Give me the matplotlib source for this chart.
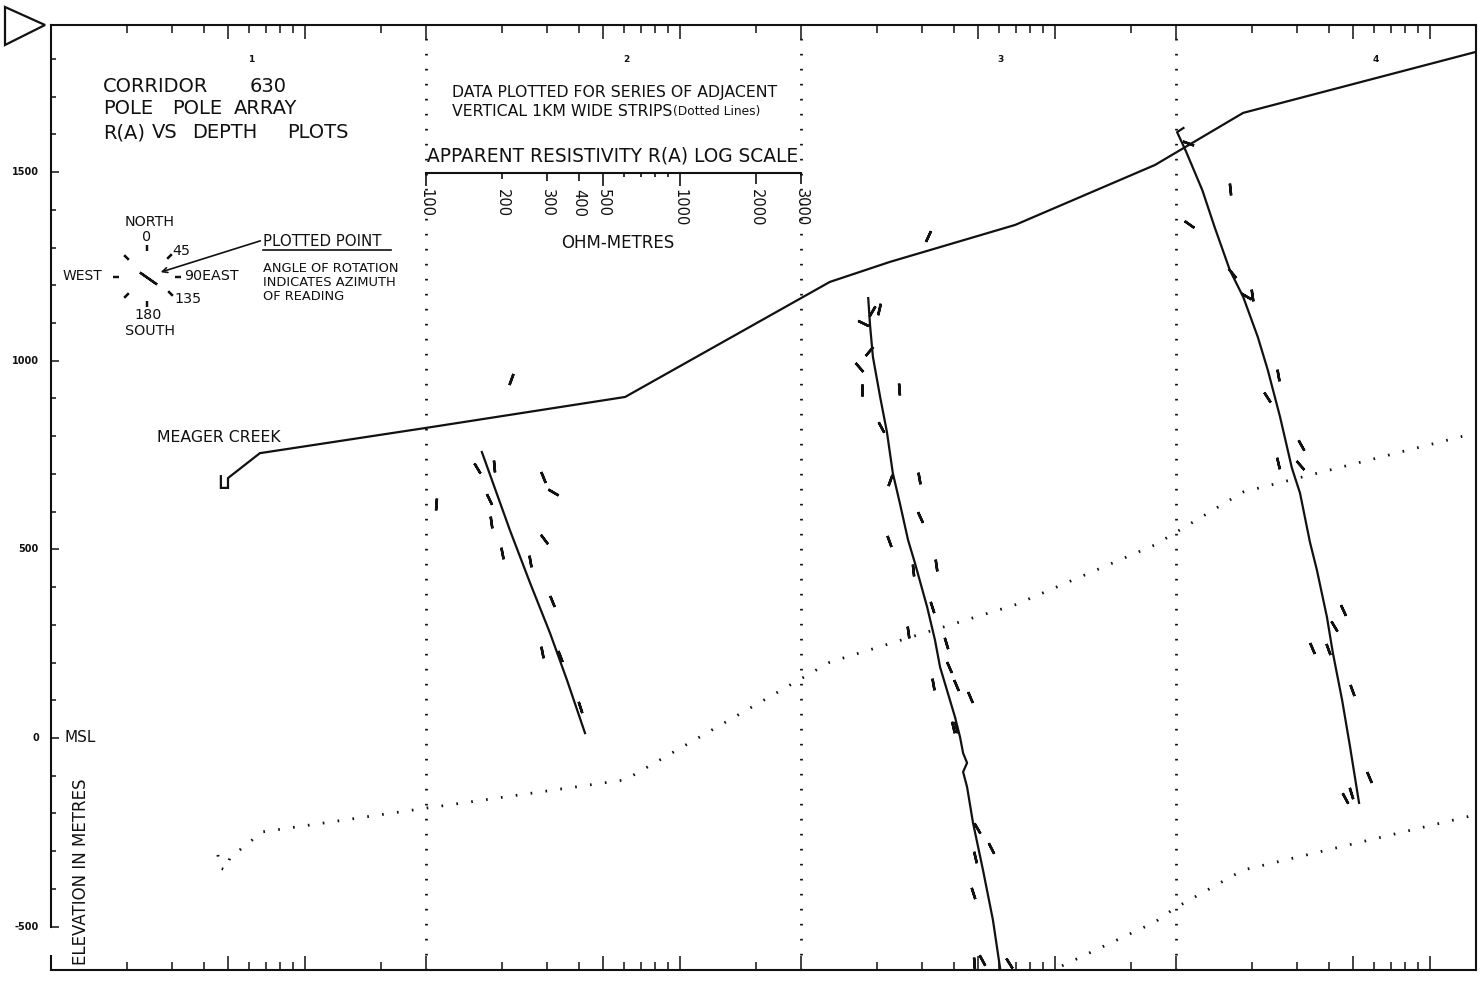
import numpy as np
import matplotlib
matplotlib.use("Agg")
import matplotlib.pyplot as plt
from matplotlib.lines import Line2D
from matplotlib.patches import Polygon, FancyArrowPatch
from matplotlib.ticker import FixedLocator, NullFormatter, FixedFormatter
import matplotlib.transforms as mtransforms

plt.rcParams['font.family'] = ['DejaVu Sans']

# ---------------------------------------------------------------------------
# Strip layout: the corridor is cut into 1 km wide vertical strips; in each
# strip apparent resistivity is plotted on a log scale, 100 ohm-m at the
# strip's left edge to 3000 ohm-m at its right edge.
# ---------------------------------------------------------------------------
R_MIN, R_MAX = 100.0, 3000.0
STRIP_EDGES_KM = [1.0, 2.0, 3.0]
STRIP_LABELS = ["1", "2", "3", "4"]

# Ground surface along the corridor (distance in km, elevation in m)
topo_km = [0.453, 0.453, 0.472, 0.472, 0.557, 1.000, 1.531, 2.077, 2.237, 2.571, 2.944, 3.179, 3.797]
topo_elev = [694, 663, 663, 689, 755, 822, 904, 1209, 1262, 1360, 1519, 1657, 1818]

# Depth contours below surface (dotted)
depth1_km = [0.445, 0.451, 0.467, 0.477, 0.563, 1.000, 1.531, 2.077, 2.571, 2.944, 3.179, 3.797]
depth1_elev = [-310, -345, -350, -318, -249, -186, -111, 201, 353, 512, 652, 808]
depth2_km = [2.696, 2.944, 2.997, 3.179, 3.797]
depth2_elev = [-604, -488, -451, -350, -204]

# Smoothed R(A) vs depth profiles (ohm-m, elevation m), one per strip
prof2_r = [166, 214, 257, 308, 359, 423]
prof2_elev = [758, 551, 411, 278, 154, 13]
prof3_r = [184, 187, 192, 205, 218, 230, 245, 264, 281, 314, 337, 353, 404, 423, 435, 451,
           435, 451, 476, 521, 570, 614]
prof3_elev = [1166, 1095, 1010, 904, 811, 702, 623, 525, 464, 347, 260, 188, 56, 3, -40, -66,
              -90, -130, -225, -350, -482, -628]
prof4_r = [107, 101, 109, 127, 142, 163, 184, 210, 230, 257, 286, 308, 337, 359, 393, 415, 451, 485, 526]
prof4_elev = [1617, 1606, 1558, 1452, 1354, 1240, 1169, 1063, 975, 851, 716, 649, 519, 445, 321,
              225, 101, -24, -172]

# Individual readings: resistivity, elevation and azimuth (degrees from north)
read2_r = [216, 159, 185, 289, 316, 109, 177, 180, 291, 199, 257, 314, 286, 337, 404]
read2_elev = [951, 716, 721, 692, 652, 620, 633, 572, 527, 490, 469, 363, 228, 217, 82]
read2_az = [20, 149, 175, 158, 120, 4, 154, 172, 143, 169, 170, 158, 169, 159, 162]

read3_r = [203, 190, 175, 185, 169, 174, 243, 207, 224, 291, 294, 222, 276, 340, 328, 264,
           372, 383, 331, 408, 463, 397, 408, 493, 560, 485, 476, 516, 480, 660, 316]
read3_elev = [1137, 1132, 1100, 1026, 983, 922, 925, 824, 684, 689, 586, 522, 445, 459, 347, 281,
              252, 188, 143, 140, 109, 29, 29, -239, -292, -315, -411, -588, -596, -596, 1330]
read3_az = [13, 30, 116, 40, 139, 0, 176, 152, 20, 170, 155, 160, 174, 172, 162, 172,
            163, 156, 170, 157, 157, 167, 167, 150, 153, 167, 162, 152, 176, 148, 25]

read4_r = [112, 163, 113, 166, 189, 199, 252, 228, 311, 252, 308, 455, 419, 343, 397, 493, 575, 463, 489]
read4_elev = [1577, 1455, 1362, 1232, 1171, 1174, 962, 904, 777, 729, 724, 339, 297, 239, 236,
              127, -103, -159, -146]
read4_az = [110, 174, 125, 140, 120, 172, 170, 147, 151, 167, 139, 155, 149, 157, 160, 160, 157, 152, 163]

# Resistivity scale values
scale_major = [100, 200, 300, 400, 500, 1000, 2000, 3000]
scale_minor = [600, 700, 800, 900]
elev_labels = [1500, 1000, 500, 0, -500]

# ---------------------------------------------------------------------------
W, H = 1480, 982
LOG_SPAN = np.log10(R_MAX / R_MIN)


def strip_x(left_km, r):
    """Distance along the corridor of resistivity r plotted in the strip starting at left_km."""
    return left_km + np.log10(np.asarray(r, dtype=float) / R_MIN) / LOG_SPAN


def px(x, y):
    """Pixel position on the sheet -> figure fraction."""
    return x / W, 1 - y / H


INK = "#111111"
fig = plt.figure(figsize=(W / 100, H / 100), dpi=100)
ax = fig.add_axes([51 / W, 1 - 970 / H, 1425 / W, 945 / H])
ax.set_xlim(0, 3.8)
ax.set_ylim(-615, 1890)

for s in ax.spines.values():
    s.set_linewidth(1.5)
    s.set_color(INK)
ax.spines['left'].set_bounds(-500, 1890)
ax.plot([0, 0], [-575, -615], color=INK, lw=1.5, clip_on=False, solid_capstyle='butt')

# Log ticks repeated along the top and bottom edges, one set per strip
major_pos, minor_pos = [], []
for left in [0.0] + STRIP_EDGES_KM:
    for v in [100, 500, 1000]:
        p = float(strip_x(left, v))
        if p <= 3.8:
            major_pos.append(p)
    for v in [200, 300, 400, 600, 700, 800, 900, 2000]:
        p = float(strip_x(left, v))
        if p <= 3.8:
            minor_pos.append(p)
ax.xaxis.set_major_locator(FixedLocator(major_pos))
ax.xaxis.set_minor_locator(FixedLocator(minor_pos))
ax.tick_params(axis='x', which='major', direction='in', top=True, bottom=True,
               length=10, width=1.1, color=INK, labelbottom=False, labeltop=False)
ax.tick_params(axis='x', which='minor', direction='in', top=True, bottom=True,
               length=5.5, width=1.1, color=INK)

ax.yaxis.set_major_locator(FixedLocator(elev_labels))
ax.yaxis.set_minor_locator(FixedLocator([v for v in range(-500, 1900, 100) if v % 500]))
ax.tick_params(axis='y', which='major', direction='in', length=6, width=1.1, color=INK,
               labelleft=False, right=False)
ax.tick_params(axis='y', which='minor', direction='in', length=3.5, width=1.1, color=INK, right=False)

ylab_tr = mtransforms.blended_transform_factory(ax.transAxes, ax.transData)
for v in elev_labels:
    ax.text(-0.0085, v, str(v), transform=ylab_tr, ha='right', va='center',
            fontsize=7, fontweight='bold', color=INK)

strip_tr = mtransforms.blended_transform_factory(ax.transData, ax.transAxes)
for i, lab in enumerate(STRIP_LABELS):
    ax.text(i + 0.533, 0.963, lab, transform=strip_tr, ha='center', va='center',
            fontsize=6.5, fontweight='bold', color=INK)

# Strip boundaries and depth contours (dotted)
dot = (0, (0.6, 4.8))
for e in STRIP_EDGES_KM:
    ax.axvline(e, color=INK, lw=2.0, ls=dot)
ax.plot(depth1_km, depth1_elev, color=INK, lw=2.0, ls=dot)
ax.plot(depth2_km, depth2_elev, color=INK, lw=2.0, ls=dot)

# Ground surface
ax.plot(topo_km, topo_elev, color=INK, lw=1.6, solid_joinstyle='miter')

# Resistivity profiles and readings
profiles = [(prof2_r, prof2_elev), (prof3_r, prof3_elev), (prof4_r, prof4_elev)]
readings = [(read2_r, read2_elev, read2_az), (read3_r, read3_elev, read3_az),
            (read4_r, read4_elev, read4_az)]
for left, (pr, pe) in zip(STRIP_EDGES_KM, profiles):
    ax.plot(strip_x(left, pr), pe, color=INK, lw=1.6)
for left, (rr, re, ra) in zip(STRIP_EDGES_KM, readings):
    xs = strip_x(left, rr)
    for x, y, a in zip(xs, re, ra):
        ax.plot([x], [y], ls='none', marker=(2, 2, -a), ms=8.5, mew=1.8, color=INK)

# Resistivity scale bar
ax_r = fig.add_axes([426 / W, 1 - 173 / H, 375 / W, 0.0004])
ax_r.set_xscale('log')
ax_r.set_xlim(R_MIN, R_MAX)
ax_r.patch.set_visible(False)
for k in ['top', 'left', 'right']:
    ax_r.spines[k].set_visible(False)
ax_r.spines['bottom'].set_linewidth(1.5)
ax_r.spines['bottom'].set_color(INK)
ax_r.set_yticks([])
ax_r.xaxis.set_major_locator(FixedLocator(scale_major))
ax_r.xaxis.set_major_formatter(FixedFormatter([str(v) for v in scale_major]))
ax_r.xaxis.set_minor_locator(FixedLocator(scale_minor))
ax_r.xaxis.set_minor_formatter(NullFormatter())
ax_r.tick_params(axis='x', which='major', direction='out', length=9.4, width=1.2, color=INK,
                 labelsize=10.5, labelrotation=-90, pad=2, labelcolor=INK)
ax_r.tick_params(axis='x', which='minor', direction='out', length=3, width=1.2, color=INK)
tick_len = {100: 9.4, 200: 4.5, 300: 6, 400: 6, 500: 9.4, 1000: 9.4, 2000: 8, 3000: 8}
for t, v in zip(ax_r.xaxis.get_major_ticks(), scale_major):
    t.tick1line.set_markersize(tick_len[v])

# ---------------------------------------------------------------------------
# Annotations
# ---------------------------------------------------------------------------
def txt(x, y, s, **kw):
    kw.setdefault('color', INK)
    kw.setdefault('va', 'center')
    fig.text(*px(x, y), s, **kw)


# Title block, word by word on the plotter's wide spacing
title_words = [(103, 86, "CORRIDOR"), (250, 86, "630"),
               (103, 109, "POLE"), (172, 109, "POLE"), (234, 109, "ARRAY"),
               (103, 133, "R(A)"), (152, 133, "VS"), (192, 133, "DEPTH"), (287, 133, "PLOTS")]
for x, y, w in title_words:
    txt(x, y, w, fontsize=14)

txt(452, 93, "DATA PLOTTED FOR SERIES OF ADJACENT", fontsize=11.3)
txt(452, 112, "VERTICAL 1KM WIDE STRIPS", fontsize=11.3)
txt(673, 112, "(Dotted Lines)", fontsize=8.8)
txt(427, 156, "APPARENT RESISTIVITY R(A) LOG SCALE", fontsize=13.4)
txt(618, 243, "OHM-METRES", fontsize=12, ha='center')

# Azimuth key
txt(150, 222, "NORTH", fontsize=10.3, ha='center')
txt(147, 237, "0", fontsize=10.3, ha='center')
txt(172, 251, "45", fontsize=10.3)
txt(102, 276, "WEST", fontsize=10, ha='right')
txt(184, 276, "90EAST", fontsize=10.3)
txt(174, 299, "135", fontsize=10.3)
txt(148, 315, "180", fontsize=10.3, ha='center')
txt(150, 331, "SOUTH", fontsize=10.3, ha='center')
key_marks = [(147, 248, 0), (169, 256, 45), (178, 277, 90), (170, 293, 135),
             (147, 304, 0), (126, 295, 45), (116, 277, 90), (126, 257, 135)]
for x, y, a in key_marks:
    fig.add_artist(Line2D([x / W], [1 - y / H], transform=fig.transFigure, ls='none',
                          marker=(2, 2, -a), ms=4.5, mew=1.6, color=INK))
fig.add_artist(Line2D([148 / W], [1 - 278 / H], transform=fig.transFigure, ls='none',
                      marker=(2, 2, -125), ms=15, mew=1.7, color=INK))
fig.add_artist(FancyArrowPatch(px(263, 240), px(158, 273), transform=fig.transFigure,
                               arrowstyle='->', mutation_scale=9, lw=1.2, color=INK))
txt(263, 242, "PLOTTED POINT", fontsize=10.8)
fig.add_artist(Line2D([263 / W, 391 / W], [1 - 250 / H] * 2, transform=fig.transFigure,
                      color=INK, lw=1.2))
txt(263, 268, "ANGLE OF ROTATION", fontsize=9.4)
txt(263, 282, "INDICATES AZIMUTH", fontsize=9.4)
txt(263, 296, "OF READING", fontsize=9.4)

txt(157, 438, "MEAGER CREEK", fontsize=11.3)
txt(65, 737, "MSL", fontsize=11)
txt(81, 872, "ELEVATION IN METRES", fontsize=12, rotation=90, ha='center')

# Sheet orientation mark
fig.add_artist(Polygon([px(5, 7), px(45, 25), px(5, 45)], closed=True, fill=False,
                       transform=fig.transFigure, lw=1.6, edgecolor=INK))

fig.savefig("out.png", dpi=100, facecolor='white')
